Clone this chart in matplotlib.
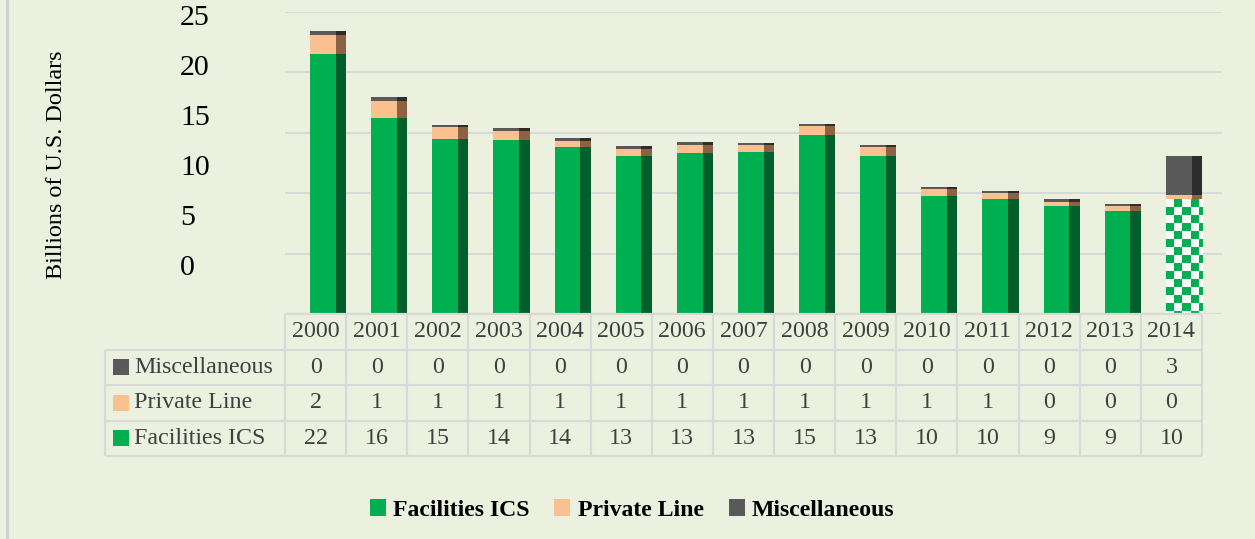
import numpy as np
import matplotlib
matplotlib.use("Agg")
import matplotlib.pyplot as plt
from matplotlib.lines import Line2D
from matplotlib.patches import Patch
from matplotlib.colors import ListedColormap

# ---------------- data ----------------
years = ["2000", "2001", "2002", "2003", "2004", "2005", "2006", "2007",
         "2008", "2009", "2010", "2011", "2012", "2013", "2014"]
facilities_ics = [21.5, 16.2, 14.5, 14.4, 13.8, 13.1, 13.3, 13.4, 14.85, 13.1,
                  9.8, 9.5, 8.9, 8.5, 9.5]
private_line = [1.6, 1.45, 0.96, 0.77, 0.55, 0.6, 0.7, 0.6, 0.75, 0.75,
                0.55, 0.52, 0.39, 0.44, 0.35]
miscellaneous = [0.3, 0.28, 0.22, 0.23, 0.25, 0.21, 0.2, 0.15, 0.15, 0.15,
                 0.14, 0.17, 0.19, 0.17, 3.2]
table_fac = ["22", "16", "15", "14", "14", "13", "13", "13", "15", "13", "10", "10", "9", "9", "10"]
table_pl = ["2", "1", "1", "1", "1", "1", "1", "1", "1", "1", "1", "1", "0", "0", "0"]
table_misc = ["0"] * 14 + ["3"]
projected = [False] * 14 + [True]
ytick_labels = ["25", "20", "15", "10", "5", "0"]
series_names = ["Facilities ICS", "Private Line", "Miscellaneous"]

# ---------------- style ----------------
W, H = 1255, 539
BG = "#EBF1DE"
GRID = "#D9D9D9"
TXT = "#404040"
colors = ["#00B050", "#FAC090", "#595959"]
dark = ["#005F2A", "#8B6244", "#2D2D2D"]
SERIF = "Liberation Serif"
TFS = 17.3

fig = plt.figure(figsize=(W / 100, H / 100), dpi=100, facecolor=BG)
fig.add_artist(Line2D([7 / W, 7 / W], [0, 1], color="#D0D0D0", lw=2, transform=fig.transFigure))

cell_px = 61.13
ax_left, ax_right, ax_top, ax_bot = 285, 1222, 12, 314
ax = fig.add_axes([ax_left / W, 1 - ax_bot / H, (ax_right - ax_left) / W, (ax_bot - ax_top) / H])
ax.set_facecolor("none")
xmax = (ax_right - ax_left) / cell_px
for s in ax.spines.values():
    s.set_visible(False)

ax.hlines([0, 5, 10, 15, 20, 25], 0, xmax, color=GRID, lw=1.6, zorder=0)

# y tick labels (offset as in the original)
ypx_per_unit = (ax_bot - ax_top) / 25
ytick_pos = [24.75 - k * 50 / ypx_per_unit for k in range(len(ytick_labels))]
ax.set_yticks(ytick_pos)
ax.set_yticklabels(ytick_labels, fontfamily=SERIF, fontsize=21.5, color="black")
ax.tick_params(axis="y", length=0, pad=(ax_left - 180) * 0.72)
for lab in ax.get_yticklabels():
    lab.set_horizontalalignment("left")
ax.set_xticks([])

# bars
bar_w = 0.59
dark_w = 0.17
n = len(years)
x_idx = np.arange(n)
bottoms = np.zeros(n)
series = [facilities_ics, private_line, miscellaneous]
for si, vals in enumerate(series):
    vals = np.array(vals)
    for i in range(n):
        left = x_idx[i] + 1 - bar_w
        if si == 0 and projected[i]:
            rect = ax.bar(left, vals[i], bar_w, bottom=bottoms[i], align="edge",
                          color="white", edgecolor="none", zorder=2)[0]
            wpx = bar_w * cell_px
            hpx = vals[i] * ypx_per_unit
            nx = int(np.ceil(wpx / 8))
            ny = int(np.ceil(hpx / 8))
            cb = (np.add.outer(np.arange(ny), np.arange(nx)) % 2).astype(float)
            cmap = ListedColormap(["white", colors[0]])
            top = bottoms[i] + vals[i]
            im = ax.imshow(cb, cmap=cmap, extent=(left, left + nx * 8 / cell_px,
                                                    top - ny * 8 / ypx_per_unit, top),
                           aspect="auto", interpolation="nearest", zorder=3, origin="upper")
            im.set_clip_path(rect)
        else:
            ax.bar(left, vals[i], bar_w - dark_w, bottom=bottoms[i], align="edge",
                   color=colors[si], edgecolor="none", zorder=2)
            ax.bar(x_idx[i] + 1 - dark_w, vals[i], dark_w, bottom=bottoms[i], align="edge",
                   color=dark[si], edgecolor="none", zorder=2)
    bottoms += vals
ax.set_xlim(0, xmax)
ax.set_ylim(0, 25)

# ---------------- table ----------------
tab_top, tab_bot = 314, 456
tax = fig.add_axes([ax_left / W, 1 - tab_bot / H, (ax_right - ax_left) / W, (tab_bot - tab_top) / H])
tax.set_facecolor("none")
tax.set_xlim(0, xmax)
tax.set_ylim(4, 0)
tax.axis("off")
x_lab_left = (105 - ax_left) / cell_px
lkw = dict(color=GRID, lw=1.6, clip_on=False, solid_capstyle="butt")
tax.plot([0, n], [0, 0], **lkw)
for r in range(1, 5):
    tax.plot([x_lab_left, n], [r, r], **lkw)
for c in range(n + 1):
    tax.plot([c, c], [0, 4], **lkw)
tax.plot([x_lab_left, x_lab_left], [1, 4], **lkw)

for i, y in enumerate(years):
    tax.text(i + 0.5, 0.5, y, ha="center", va="center", fontfamily=SERIF, fontsize=TFS, color=TXT)
rows = [("Miscellaneous", table_misc, colors[2]),
        ("Private Line", table_pl, colors[1]),
        ("Facilities ICS", table_fac, colors[0])]
for r, (name, vals, col) in enumerate(rows, start=1):
    tax.plot([(121 - ax_left) / cell_px], [r + 0.5], marker="s", markersize=11,
             color=col, markeredgewidth=0, clip_on=False, linestyle="none")
    tax.text((134 - ax_left) / cell_px, r + 0.5, name, ha="left", va="center",
             fontfamily=SERIF, fontsize=TFS, color=TXT)
    for i, v in enumerate(vals):
        tax.text(i + 0.5, r + 0.5, v, ha="center", va="center", fontfamily=SERIF,
                 fontsize=TFS, color=TXT)

# y label
fig.text(57 / W, 1 - 165 / H, "Billions of U.S. Dollars", rotation=90, ha="center", va="center",
         fontfamily=SERIF, fontsize=17.4, color="black")

# legend
handles = [Patch(facecolor=c, edgecolor="none") for c in colors]
fig.legend(handles, series_names, loc="center", bbox_to_anchor=(632 / W, 1 - 510 / H), ncol=3,
           frameon=False, prop=dict(family=SERIF, weight="bold", size=17.1),
           handlelength=0.68, handleheight=0.68, handletextpad=0.3, columnspacing=1.05)

fig.savefig("out.png", dpi=100, facecolor=BG)
